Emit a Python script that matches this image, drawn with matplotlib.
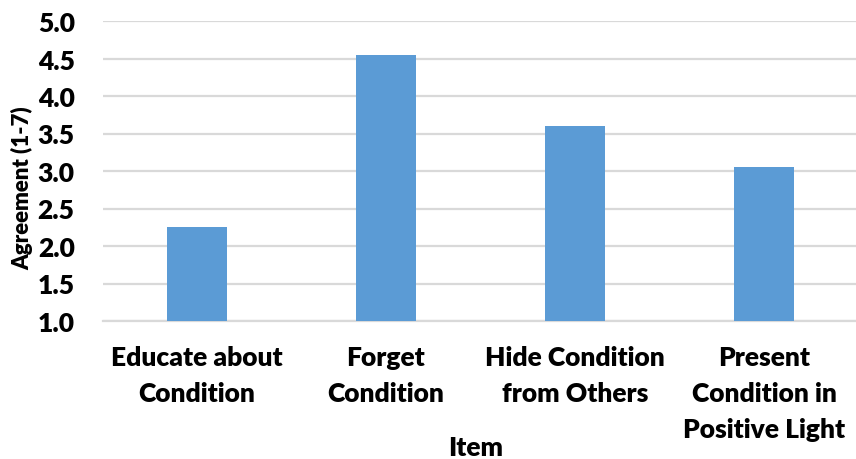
import matplotlib.pyplot as plt

# Data
items = [
    "Educate about\nCondition",
    "Forget\nCondition",
    "Hide Condition\nfrom Others",
    "Present\nCondition in\nPositive Light",
]
agreement = [2.25, 4.55, 3.6, 3.05]
y_ticks = [1.0, 1.5, 2.0, 2.5, 3.0, 3.5, 4.0, 4.5, 5.0]

bar_color = "#5b9bd5"
grid_color = "#d9d9d9"
font = ["Lato", "DejaVu Sans"]
fsize = 19

fig = plt.figure(figsize=(8.56, 4.6), dpi=100)
fig.set_facecolor("white")
ax = fig.add_axes([102.5 / 856, 1 - 322 / 460, 753.5 / 856, 300 / 460])

# Bars start at the axis floor (1.0)
ax.bar(range(len(items)), [v - 1.0 for v in agreement], bottom=1.0,
       width=0.317, color=bar_color, zorder=3)

ax.set_ylim(1.0, 5.0)
ax.set_xlim(-0.5, 3.487)
ax.set_yticks(y_ticks)
ax.set_yticklabels([f"{t:.1f}" for t in y_ticks])
ax.set_xticks(range(len(items)))
ax.set_xticklabels(items, linespacing=1.6)

ax.yaxis.grid(True, color=grid_color, lw=1.6, zorder=0)
ax.xaxis.grid(False)
for side in ["top", "right", "left"]:
    ax.spines[side].set_visible(False)
ax.spines["bottom"].set_color(grid_color)
ax.spines["bottom"].set_linewidth(1.6)
ax.tick_params(axis="both", length=0)
ax.tick_params(axis="y", pad=20)
ax.tick_params(axis="x", pad=17)

for lbl in ax.get_yticklabels() + ax.get_xticklabels():
    lbl.set_fontfamily(font)
    lbl.set_fontweight("heavy")
    lbl.set_fontsize(fsize)
    lbl.set_color("black")

fig.text(22 / 856, 1 - 188 / 460, "Agreement (1-7)", rotation=90,
         ha="center", va="center", family=font, weight="heavy", size=16)
fig.text(476 / 856, 1 - 448 / 460, "Item",
         ha="center", va="center", family=font, weight="heavy", size=fsize)

plt.savefig("out.png", dpi=100)
